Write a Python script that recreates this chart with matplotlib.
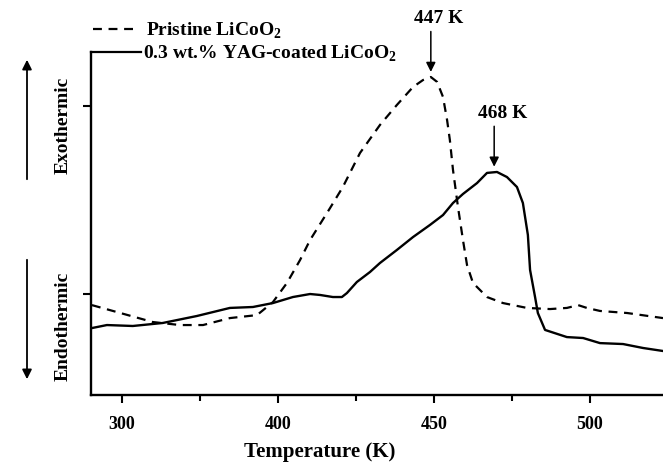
import matplotlib
matplotlib.use("Agg")
import matplotlib.pyplot as plt
from matplotlib.patches import FancyArrowPatch

plt.rcParams['font.family'] = ['Liberation Serif', 'DejaVu Serif']
plt.rcParams['font.weight'] = 'bold'
plt.rcParams['mathtext.fontset'] = 'custom'
plt.rcParams['mathtext.rm'] = 'Liberation Serif:bold'
plt.rcParams['mathtext.bf'] = 'Liberation Serif:bold'

# DSC traces (temperature in K, heat flow in arbitrary units)
temp_pristine = [340.4, 359.9, 368.6, 376.0, 384.6, 393.3, 398.4, 402.9, 407.1,
                 410.3, 416.7, 420.8, 426.3, 432.7, 438.1, 443.3, 446.5, 449.0,
                 451.0, 452.9, 454.2, 455.1, 456.1, 457.7, 459.3, 460.6, 462.5,
                 467.0, 472.1, 479.8, 487.2, 492.6, 496.2, 499.0, 503.2, 511.9, 523.4]
heat_pristine = [-0.059, -0.149, -0.165, -0.165, -0.128, -0.112, -0.043, 0.059, 0.181,
                 0.287, 0.457, 0.569, 0.750, 0.899, 1.005, 1.101, 1.138, 1.154,
                 1.128, 1.048, 0.926, 0.819, 0.660, 0.463, 0.287, 0.154, 0.059,
                 -0.016, -0.048, -0.074, -0.080, -0.074, -0.059, -0.074, -0.090, -0.101, -0.128]

temp_coated = [340.4, 345.2, 353.5, 363.1, 374.0, 384.6, 392.0, 398.4, 404.8, 410.3,
               413.5, 417.6, 420.5, 422.1, 425.3, 429.5, 432.7, 438.1, 443.3, 448.7,
               452.9, 456.1, 459.3, 463.8, 467.0, 470.2, 473.4, 476.6, 478.5, 480.1,
               480.8, 482.4, 483.3, 485.6, 492.6, 497.8, 503.2, 510.6, 517.0, 523.4]
heat_coated = [-0.181, -0.165, -0.170, -0.154, -0.117, -0.074, -0.069, -0.048, -0.016, 0.0,
               -0.005, -0.016, -0.016, 0.005, 0.064, 0.117, 0.165, 0.234, 0.303, 0.367,
               0.420, 0.484, 0.532, 0.590, 0.644, 0.649, 0.622, 0.569, 0.484, 0.314,
               0.128, -0.016, -0.101, -0.191, -0.229, -0.234, -0.261, -0.266, -0.287, -0.303]

major_ticks = [350, 400, 450, 500]
major_labels = ['300', '400', '450', '500']
minor_ticks = [375, 425, 475]

peaks = [(449.0, 1.181, '447 K'), (469.3, 0.677, '468 K')]

fig = plt.figure(figsize=(6.63, 4.65), dpi=100)
ax = fig.add_axes([91 / 663, 70 / 465, 572 / 663, 343 / 465])

ax.plot(temp_pristine, heat_pristine, color='black', lw=1.6, ls=(0, (4, 3)))
ax.plot(temp_coated, heat_coated, color='black', lw=1.7)

ax.set_xlim(340.1, 523.4)
ax.set_ylim(-0.537, 1.287)

ax.set_xticks(major_ticks)
ax.set_xticklabels(major_labels, fontsize=13, fontweight='bold')
ax.set_xticks(minor_ticks, minor=True)
ax.set_yticks([0, 1])
ax.set_yticklabels([])
ax.tick_params(axis='x', which='major', length=6, width=1.5, pad=9)
ax.tick_params(axis='x', which='minor', length=4, width=1.5)
ax.tick_params(axis='y', length=6, width=1.5)

for side in ['top', 'right']:
    ax.spines[side].set_visible(False)
for side in ['left', 'bottom']:
    ax.spines[side].set_linewidth(1.7)

fig.text(320 / 663, 1 - 452 / 465, 'Temperature (K)', fontsize=15,
         fontweight='bold', ha='center', va='center')

# peak markers
for x, y, label in peaks:
    ax.annotate('', xy=(x, y), xytext=(x, y + 0.215), annotation_clip=False,
                arrowprops=dict(arrowstyle='-|>', color='black', lw=1.1,
                                mutation_scale=14, shrinkA=0, shrinkB=0))
    ax.text(x + 2.6, y + 0.285, label, ha='center', va='center',
            fontsize=14, fontweight='bold', clip_on=False)

# manual legend at the top of the y axis
fig.add_artist(plt.Line2D([93 / 663, 138 / 663], [1 - 29 / 465, 1 - 29 / 465],
                          color='black', lw=1.6, ls=(0, (4, 3))))
fig.add_artist(plt.Line2D([91 / 663, 141 / 663], [1 - 52 / 465, 1 - 52 / 465],
                          color='black', lw=1.6))
fig.text(146 / 663, 1 - 31 / 465, r'Pristine LiCoO$_\mathbf{2}$', fontsize=14,
         fontweight='bold', va='center', ha='left')
fig.text(143 / 663, 1 - 54 / 465, r'0.3 wt.% YAG-coated LiCoO$_\mathbf{2}$', fontsize=14,
         fontweight='bold', va='center', ha='left')

# exo / endo direction arrows
fig.add_artist(FancyArrowPatch(
    (27 / 663, 1 - 182 / 465), (27 / 663, 1 - 57 / 465), transform=fig.transFigure,
    arrowstyle='-|>', mutation_scale=14, color='black', lw=1.3))
fig.add_artist(FancyArrowPatch(
    (27 / 663, 1 - 257 / 465), (27 / 663, 1 - 382 / 465), transform=fig.transFigure,
    arrowstyle='-|>', mutation_scale=14, color='black', lw=1.3))
fig.text(63 / 663, 1 - 125 / 465, 'Exothermic', rotation=90, fontsize=14,
         fontweight='bold', ha='center', va='center')
fig.text(63 / 663, 1 - 326 / 465, 'Endothermic', rotation=90, fontsize=14,
         fontweight='bold', ha='center', va='center')

fig.savefig('out.png', dpi=100)
